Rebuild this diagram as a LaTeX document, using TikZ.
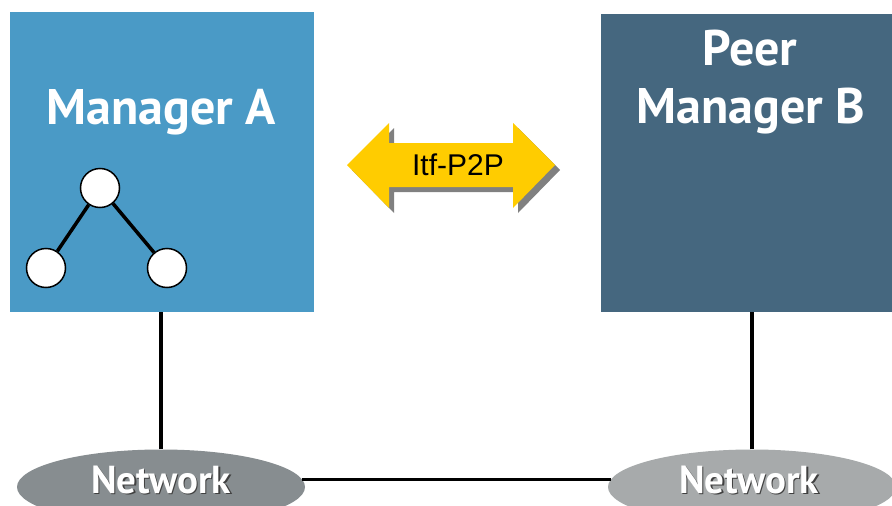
\documentclass[tikz,border=0pt]{standalone}
\usepackage{fontspec}
\setmainfont{PT Sans}
\newfontfamily\arialfont{Liberation Sans}
\usetikzlibrary{shapes.geometric}
\definecolor{boxA}{HTML}{4A9AC6}
\definecolor{boxB}{HTML}{45677F}
\definecolor{netAcol}{HTML}{878D90}
\definecolor{netBcol}{HTML}{A7AAAB}
\definecolor{arrowcol}{HTML}{FFCC00}
\definecolor{shadowcol}{HTML}{808080}
\tikzset{
  mgrbox/.style={rectangle, inner sep=0pt, draw=none},
  title/.style={anchor=base, inner sep=0pt, text=white, font=\fontsize{50}{60}\selectfont\bfseries},
  netell/.style={ellipse, inner sep=0pt, minimum width=288pt, minimum height=75pt, draw=none},
  nettext/.style={anchor=base, inner sep=0pt, font=\fontsize{39}{46}\selectfont\bfseries},
  treenode/.style={circle, draw=black, line width=1.5pt, fill=white, minimum size=39pt, inner sep=0pt},
  treeedge/.style={line width=3.5pt},
  link/.style={line width=3.3pt, draw=black}
}
\begin{document}
\begin{tikzpicture}[x=1pt,y=-1pt]
\useasboundingbox (0,0) rectangle (892,506);
\fill[white] (0,0) rectangle (892,506);
% boxes
\node[mgrbox, fill=boxA, minimum width=304pt, minimum height=300pt] (A) at (162,162) {};
\node[mgrbox, fill=boxB, minimum width=291pt, minimum height=298pt] (B) at (746.5,163) {};
\node[title] (tA) at (161.5,124) {Manager A};
\node[title] (tB1) at (750,65) {Peer};
\node[title] (tB2) at (751,123) {Manager B};
% tree
\node[treenode] (t0) at (100,188) {};
\node[treenode] (t1) at (46,268) {};
\node[treenode] (t2) at (167,268) {};
\draw[treeedge] (t0) -- (t1);
\draw[treeedge] (t0) -- (t2);
% networks
\node[netell, fill=netAcol] (nA) at (161,487) {};
\node[netell, fill=netBcol] (nB) at (752,487) {};
\draw[link] (nA.north -| 161,0) -- (161,312);
\draw[link] (nB.north) -- (nB.north |- B.south);
\draw[link] (nA.3) -- (nB.177);
\node[nettext, text=black!75] at (162.5,494.5) {Network};
\node[nettext, text=white] (lA) at (161,493) {Network};
\node[nettext, text=black!75] at (750.5,494.5) {Network};
\node[nettext, text=white] (lB) at (749,493) {Network};
% double arrow
\begin{scope}[shift={(5,5)}]
\fill[shadowcol] (347,165) -- (389,123) -- (389,143) -- (513,143) -- (513,123) -- (555,165) -- (513,208) -- (513,187) -- (389,187) -- (389,208) -- cycle;
\end{scope}
\fill[arrowcol] (347,165) -- (389,123) -- (389,143) -- (513,143) -- (513,123) -- (555,165) -- (513,208) -- (513,187) -- (389,187) -- (389,208) -- cycle;
\node[inner sep=0pt, font=\arialfont\fontsize{30}{36}\selectfont] (itf) at (458,165) {Itf-P2P};
\end{tikzpicture}
\end{document}
